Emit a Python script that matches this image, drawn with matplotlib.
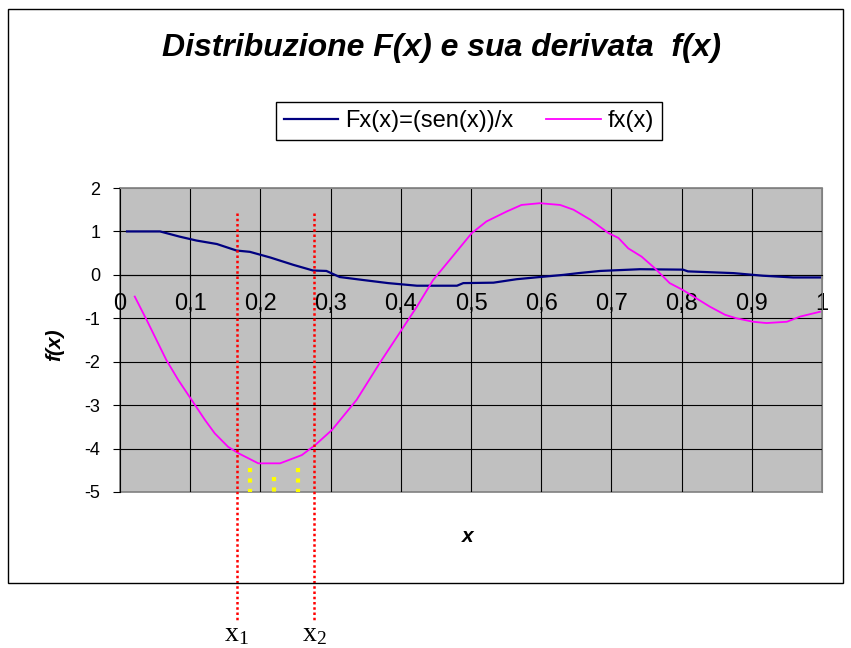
import matplotlib
matplotlib.use("Agg")
import matplotlib.pyplot as plt
from matplotlib.patches import Rectangle

plt.rcParams['font.family'] = ['Liberation Sans', 'DejaVu Sans']
plt.rcParams['mathtext.fontset'] = 'custom'
plt.rcParams['mathtext.rm'] = 'Liberation Serif'
plt.rcParams['mathtext.it'] = 'Liberation Serif:italic'

# Fx(x) = sen(x)/x  (blue)
fx_big_x = [0.01, 0.057, 0.085, 0.109, 0.138, 0.166, 0.185, 0.214, 0.247, 0.275,
            0.294, 0.313, 0.347, 0.382, 0.423, 0.480, 0.489, 0.532, 0.565, 0.598,
            0.632, 0.653, 0.684, 0.741, 0.802, 0.809, 0.874, 0.916, 0.959, 0.997]
fx_big_y = [1.0, 1.0, 0.88, 0.79, 0.71, 0.56, 0.53, 0.40, 0.23, 0.10,
            0.09, -0.05, -0.12, -0.19, -0.25, -0.25, -0.19, -0.18, -0.10, -0.05,
            0.0, 0.04, 0.09, 0.13, 0.12, 0.08, 0.04, -0.02, -0.06, -0.06]

# fx(x) derivative (magenta)
fx_small_x = [0.021, 0.038, 0.052, 0.066, 0.083, 0.102, 0.121, 0.135, 0.154, 0.169,
              0.197, 0.228, 0.259, 0.278, 0.302, 0.337, 0.370, 0.401, 0.423, 0.446,
              0.470, 0.501, 0.522, 0.551, 0.572, 0.598, 0.627, 0.646, 0.670, 0.696,
              0.710, 0.724, 0.743, 0.762, 0.783, 0.802, 0.817, 0.840, 0.862, 0.878,
              0.902, 0.921, 0.950, 0.969, 0.997]
fx_small_y = [-0.50, -1.04, -1.50, -1.96, -2.42, -2.88, -3.34, -3.65, -3.96, -4.11,
              -4.34, -4.34, -4.15, -3.92, -3.57, -2.88, -2.03, -1.27, -0.73, -0.12,
              0.35, 0.96, 1.23, 1.46, 1.61, 1.65, 1.61, 1.50, 1.27, 0.96,
              0.85, 0.61, 0.42, 0.15, -0.19, -0.35, -0.50, -0.73, -0.92, -1.00,
              -1.08, -1.11, -1.08, -0.96, -0.85]

# markers x1, x2 (red dotted) and yellow dotted marks
x_marks = [0.166, 0.277]
x_mark_labels = [r'$\mathrm{x}_\mathrm{1}$', r'$\mathrm{x}_\mathrm{2}$']
mark_top, mark_bottom = 1.42, -7.95
yellow_x = [0.185, 0.219, 0.254]
yellow_top = [-4.45, -4.66, -4.45]

x_ticks = [0, 0.1, 0.2, 0.3, 0.4, 0.5, 0.6, 0.7, 0.8, 0.9, 1]
x_tick_labels = ['0', '0,1', '0,2', '0,3', '0,4', '0,5', '0,6', '0,7', '0,8', '0,9', '1']
y_ticks = [-5, -4, -3, -2, -1, 0, 1, 2]

W, H = 851, 648
fig = plt.figure(figsize=(W / 100, H / 100), dpi=100)
ax = fig.add_axes([120 / W, 1 - 492 / H, 702 / W, 304 / H])
ax.set_facecolor('#C0C0C0')
ax.set_xlim(0, 1)
ax.set_ylim(-5, 2)

# grid
for xv in x_ticks[1:-1]:
    ax.axvline(xv, color='black', lw=0.8, zorder=1)
for yv in y_ticks[1:-1]:
    ax.axhline(yv, color='black', lw=0.8, zorder=1)

ax.plot(fx_big_x, fx_big_y, color='#000080', lw=1.6, zorder=3, label='Fx(x)=(sen(x))/x')
ax.plot(fx_small_x, fx_small_y, color='#FF00FF', lw=1.3, zorder=3, label='fx(x)')

for xv in x_marks:
    ax.plot([xv, xv], [mark_top, mark_bottom], color='red', lw=1.8,
            linestyle=(0, (1, 1.1)), clip_on=False, zorder=4)
for xv, yt in zip(yellow_x, yellow_top):
    ax.plot([xv, xv], [yt, -5], color='#FFFF00', lw=3.0,
            linestyle=(0, (1, 1.5)), solid_capstyle='butt', dash_capstyle='butt',
            clip_on=False, zorder=4)

# spines
for s in ['top', 'right']:
    ax.spines[s].set_color('#808080')
ax.spines['bottom'].set_position(('data', 0))
ax.spines['bottom'].set_color('black')
ax.spines['left'].set_color('black')
ax.add_patch(Rectangle((0, 0), 1, 1, transform=ax.transAxes, fill=False,
                       edgecolor='#808080', lw=1.2, zorder=0.5, clip_on=False))

ax.set_xticks(x_ticks)
ax.set_xticklabels(x_tick_labels, fontsize=17)
ax.tick_params(axis='x', direction='out', length=3, pad=10, width=0.8)
ax.set_yticks(y_ticks)
ax.set_yticklabels([str(v) for v in y_ticks], fontsize=13)
ax.tick_params(axis='y', direction='out', length=5, pad=9, width=0.8)

fig.text(442 / W, 1 - 48 / H, 'Distribuzione F(x) e sua derivata  f(x)',
         fontsize=23, fontweight='bold', fontstyle='italic', ha='center', va='center')
fig.text(55 / W, 1 - 345 / H, 'f(x)', fontsize=15, fontweight='bold',
         fontstyle='italic', rotation=90, ha='center', va='center')
fig.text(468 / W, 1 - 536 / H, 'x', fontsize=15, fontweight='bold',
         fontstyle='italic', ha='center', va='center')

for xv, lab in zip(x_marks, x_mark_labels):
    px = 120 + xv * 702
    fig.text(px / W, 1 - 634 / H, lab, fontsize=20, ha='center', va='center')

leg = fig.legend(loc='center', bbox_to_anchor=(469 / W, 1 - 121 / H), ncol=2,
                 fontsize=17, frameon=True, fancybox=False, framealpha=1,
                 edgecolor='black', handlelength=2.3, handletextpad=0.3,
                 columnspacing=1.4, borderpad=0.35, borderaxespad=0)
leg.get_frame().set_linewidth(1.0)

fig.patches.append(Rectangle((8 / W, 1 - 583 / H), 835 / W, 574 / H,
                             transform=fig.transFigure, fill=False,
                             edgecolor='black', lw=1.0))

fig.savefig('out.png', dpi=100)
